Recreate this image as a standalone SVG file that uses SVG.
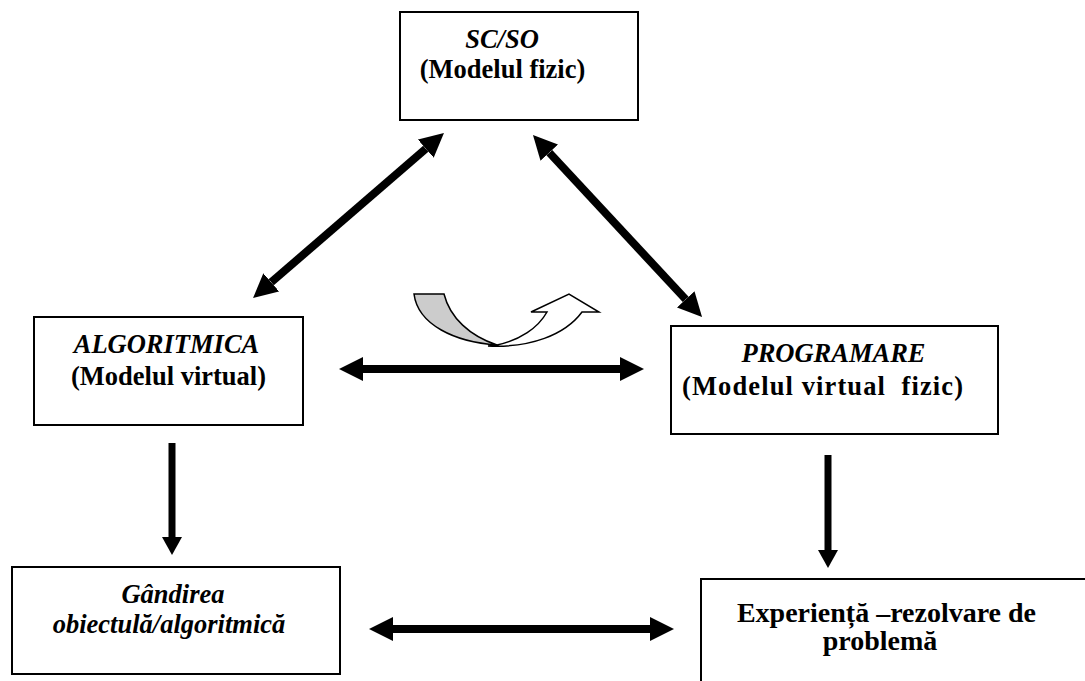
<svg xmlns="http://www.w3.org/2000/svg" width="1085" height="681" viewBox="0 0 1085 681">
<style>
.box{fill:#fff;stroke:#000;stroke-width:2}
.t{font-weight:bold;font-size:26.5px;fill:#000;text-anchor:middle}
.i{font-style:italic}
.big{font-size:28px}
.c{stroke:#000;stroke-width:8;fill:none}
.cs{stroke:#000;stroke-width:7;fill:none}
</style>
<defs>
<marker id="ah" markerUnits="userSpaceOnUse" markerWidth="24" markerHeight="24" refX="0" refY="12" orient="auto-start-reverse">
<path d="M0,0 L24,12 L0,24 z" fill="#000"/>
</marker>
<marker id="ahs" markerUnits="userSpaceOnUse" markerWidth="18" markerHeight="20" refX="0" refY="10" orient="auto">
<path d="M0,0 L18,10 L0,20 z" fill="#000"/>
</marker>
</defs>
<rect width="1085" height="681" fill="#fff"/>
<g font-family="Liberation Serif, Times New Roman, serif">
<g id="scso">
<rect class="box" x="400" y="12" width="238" height="108"/>
<text class="t i" x="502" y="48">SC/SO</text>
<text class="t" x="502.5" y="78">(Modelul fizic)</text>
</g>
<g id="algoritmica">
<rect class="box" x="34" y="317" width="269" height="108"/>
<text class="t i" x="166.5" y="353">ALGORITMICA</text>
<text class="t" x="168.5" y="385">(Modelul virtual)</text>
</g>
<g id="programare">
<rect class="box" x="671" y="326" width="327" height="108"/>
<text class="t i" x="833.5" y="362">PROGRAMARE</text>
<text class="t" x="822.5" y="395" xml:space="preserve" textLength="281" lengthAdjust="spacing">(Modelul virtual  fizic)</text>
</g>
<g id="gandirea">
<rect class="box" x="12" y="567" width="328" height="107"/>
<text class="t i" x="173" y="603">Gândirea</text>
<text class="t i" x="169" y="633">obiectulă/algoritmică</text>
</g>
<g id="experienta">
<rect class="box" x="701" y="579" width="500" height="200"/>
<text class="t big" x="886.5" y="622">Experiență –rezolvare de</text>
<text class="t big" x="880" y="650">problemă</text>
</g>
</g>
<g id="connectors">
<line class="c" x1="425.8" y1="148.7" x2="271.2" y2="282.3" marker-start="url(#ah)" marker-end="url(#ah)"/>
<line class="c" x1="549.3" y1="152.6" x2="685.7" y2="299.4" marker-start="url(#ah)" marker-end="url(#ah)"/>
<line class="c" x1="363" y1="369" x2="620" y2="369" marker-start="url(#ah)" marker-end="url(#ah)"/>
<line class="c" x1="393" y1="629" x2="650" y2="629" marker-start="url(#ah)" marker-end="url(#ah)"/>
<line class="cs" x1="172" y1="443" x2="172" y2="537" marker-end="url(#ahs)"/>
<line class="cs" x1="828" y1="455" x2="828" y2="550" marker-end="url(#ahs)"/>
</g>
<g id="curved-arrow" stroke="#000" stroke-width="1.5" stroke-linejoin="miter">
<path d="M414,294 L444,294 C450,318 470,336 497,345 C455,342 418,325 414,294 Z" fill="#ccc"/>
<path d="M488,346 C530,348 565,335 582,312 L599,312 L569,294 L531,312 L547,312 C538,328 520,340 497,345 Z" fill="#fff"/>
</g>
</svg>
